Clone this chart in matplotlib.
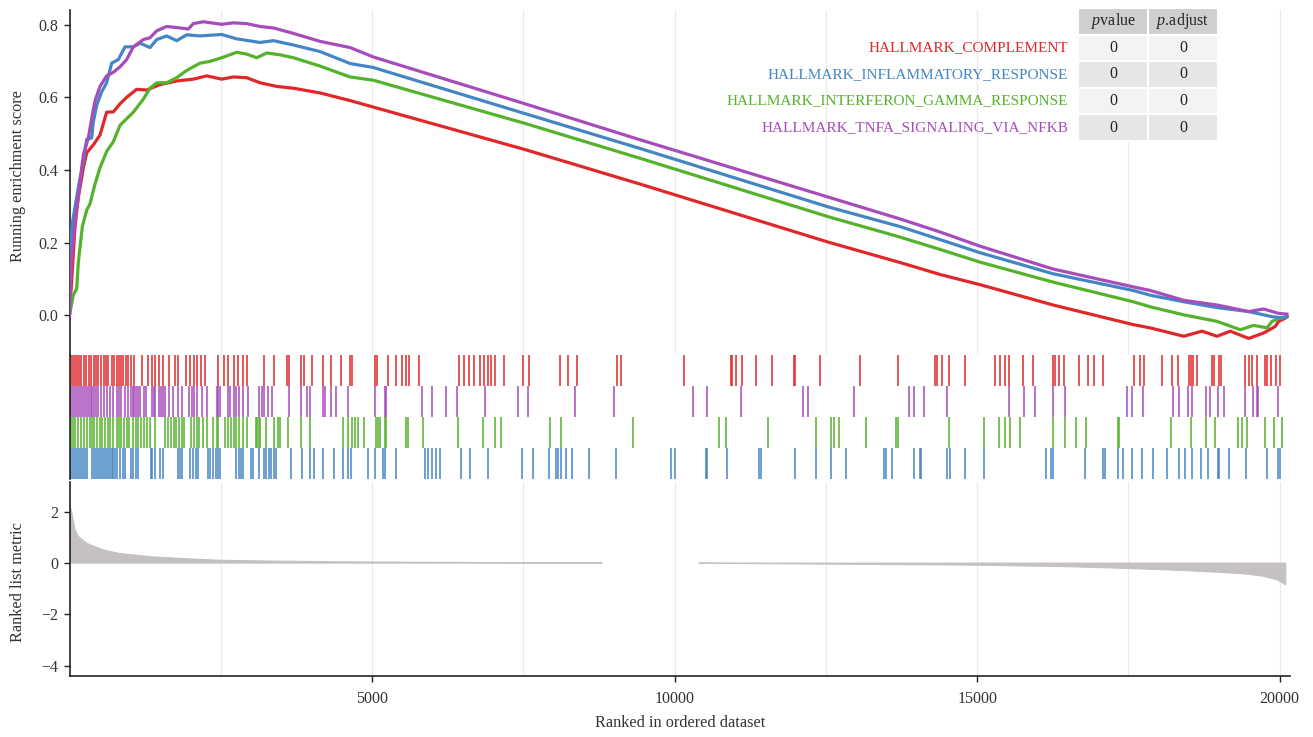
import matplotlib
matplotlib.use('Agg')
import matplotlib.pyplot as plt
import numpy as np

plt.rcParams['font.family'] = ['Liberation Serif', 'DejaVu Serif']
plt.rcParams['mathtext.fontset'] = 'custom'
plt.rcParams['mathtext.it'] = 'Liberation Serif:italic'
plt.rcParams['mathtext.rm'] = 'Liberation Serif'

# gene sets, colours
sets = ['HALLMARK_COMPLEMENT', 'HALLMARK_INFLAMMATORY_RESPONSE',
        'HALLMARK_INTERFERON_GAMMA_RESPONSE', 'HALLMARK_TNFA_SIGNALING_VIA_NFKB']
colors = ['#E0282A', '#4486C3', '#55B22C', '#A64CBB']
pvalue = ['0', '0', '0', '0']
padjust = ['0', '0', '0', '0']

# running enrichment score (rank, score)
red_x = [0, 91, 146, 229, 284, 394, 504, 614, 725, 835, 945, 1110, 1276, 1496, 1771, 2047, 2267, 2515,
         2708, 2928, 3149, 3424, 3700, 4141, 4637, 5022, 7530, 9430, 12543, 13727, 14390, 15049, 16257,
         17580, 17862, 18413, 18716, 18964, 19184, 19486, 19734, 19927, 19982, 20092, 20120]
red_y = [0, 0.244, 0.325, 0.406, 0.447, 0.469, 0.496, 0.559, 0.56, 0.582, 0.6, 0.622, 0.62, 0.635, 0.645,
         0.65, 0.659, 0.65, 0.656, 0.654, 0.64, 0.63, 0.625, 0.612, 0.591, 0.573, 0.456, 0.361, 0.201,
         0.145, 0.112, 0.084, 0.028, -0.026, -0.035, -0.058, -0.044, -0.058, -0.044, -0.064, -0.049,
         -0.031, -0.017, -0.008, -0.005]

blue_x = [0, 19, 47, 102, 157, 229, 284, 366, 394, 449, 532, 614, 697, 807, 917, 1055, 1165, 1331, 1441,
          1606, 1771, 1937, 2157, 2515, 2763, 3149, 3369, 3700, 4141, 4637, 5022, 7530, 9430, 12543,
          13727, 14390, 15049, 16257, 17580, 17862, 18413, 18964, 19486, 19872, 20060, 20120]
blue_y = [0, 0.2, 0.254, 0.308, 0.362, 0.424, 0.484, 0.488, 0.532, 0.578, 0.615, 0.64, 0.694, 0.704,
          0.739, 0.739, 0.749, 0.737, 0.759, 0.769, 0.756, 0.772, 0.769, 0.773, 0.761, 0.751, 0.756,
          0.744, 0.726, 0.693, 0.682, 0.555, 0.459, 0.298, 0.244, 0.208, 0.172, 0.114, 0.068, 0.055,
          0.037, 0.021, 0.01, -0.004, -0.008, -0.003]

green_x = [0, 63, 119, 146, 212, 284, 339, 421, 504, 614, 725, 835, 945, 1055, 1220, 1331, 1441, 1606,
           1771, 1937, 2157, 2323, 2515, 2763, 2928, 3093, 3259, 3479, 3700, 4141, 4637, 5022, 7530,
           9430, 12543, 13727, 14390, 15049, 16257, 17580, 17862, 18413, 18964, 19349, 19569, 19789,
           19872, 20010, 20120]
green_y = [0, 0.055, 0.073, 0.145, 0.244, 0.289, 0.307, 0.361, 0.406, 0.451, 0.478, 0.523, 0.541, 0.559,
           0.595, 0.625, 0.64, 0.64, 0.654, 0.674, 0.694, 0.699, 0.709, 0.724, 0.719, 0.709, 0.722, 0.717,
           0.709, 0.686, 0.656, 0.647, 0.528, 0.432, 0.271, 0.215, 0.181, 0.146, 0.091, 0.037, 0.023,
           0.001, -0.017, -0.04, -0.028, -0.035, -0.017, -0.008, -0.004]

purple_x = [0, 8, 47, 102, 157, 229, 311, 366, 421, 504, 614, 725, 835, 945, 1055, 1220, 1331, 1441,
            1606, 1827, 1964, 2047, 2212, 2515, 2708, 2928, 3149, 3369, 3700, 4141, 4637, 5022, 7530,
            9430, 12543, 13727, 14390, 15049, 16257, 17580, 17862, 18413, 18964, 19486, 19734, 19982,
            20120]
purple_y = [0, 0.082, 0.181, 0.271, 0.343, 0.442, 0.488, 0.541, 0.59, 0.63, 0.659, 0.669, 0.684, 0.704,
            0.739, 0.759, 0.764, 0.783, 0.795, 0.791, 0.788, 0.803, 0.808, 0.801, 0.805, 0.803, 0.795,
            0.791, 0.776, 0.754, 0.737, 0.711, 0.582, 0.483, 0.325, 0.265, 0.229, 0.19, 0.127, 0.078,
            0.068, 0.041, 0.028, 0.01, 0.017, 0.005, 0.003]

# positions of the gene set members in the ranked list
red_hits = [20, 51, 83, 127, 159, 190, 234, 272, 316, 348, 398, 442, 474, 525, 569, 600, 632, 707, 739,
            777, 821, 853, 884, 928, 966, 1010, 1073, 1200, 1294, 1357, 1420, 1484, 1547, 1641, 1736,
            1799, 1925, 1988, 2052, 2115, 2178, 2241, 2462, 2556, 2619, 2714, 2777, 2872, 2935, 3219,
            3377, 3597, 3629, 3818, 3881, 4008, 4197, 4323, 4481, 4639, 4670, 5049, 5080, 5257, 5396,
            5490, 5554, 5617, 5774, 6437, 6519, 6607, 6689, 6784, 6847, 6910, 6973, 7036, 7182, 7491,
            7592, 8109, 8235, 8393, 9043, 9119, 10160, 10936, 10956, 11010, 11106, 11337, 11616, 11976,
            11996, 12398, 13064, 13696, 14302, 14342, 14424, 14540, 14791, 15288, 15376, 15458, 15526,
            15750, 15920, 16260, 16294, 16348, 16430, 16688, 16838, 16926, 17076, 17586, 17688, 17756,
            18062, 18218, 18314, 18504, 18538, 18572, 18640, 18878, 18912, 18994, 19034, 19422, 19490,
            19538, 19626, 19762, 19796, 19864, 19932, 20000]
purple_hits = [1, 32, 64, 95, 127, 159, 190, 222, 253, 285, 316, 348, 379, 411, 442, 474, 525, 569, 613,
               663, 726, 777, 821, 853, 916, 966, 1010, 1042, 1073, 1105, 1137, 1168, 1231, 1263, 1357,
               1389, 1420, 1471, 1515, 1547, 1578, 1641, 1704, 1799, 1862, 1976, 2020, 2064, 2115, 2190,
               2272, 2430, 2462, 2493, 2619, 2651, 2714, 2758, 2809, 2872, 2948, 3124, 3187, 3219, 3282,
               3345, 3629, 3818, 3932, 3976, 4184, 4228, 4323, 4399, 4607, 5049, 5207, 5238, 5825, 5995,
               6216, 6405, 6860, 7415, 7573, 8362, 8993, 10296, 10534, 11092, 12126, 12200, 12962, 13880,
               13948, 14118, 14506, 15526, 15770, 15961, 16260, 16450, 17484, 17552, 17742, 18232, 18334,
               18484, 18558, 18776, 18844, 18980, 19082, 19422, 19558, 19626, 19646, 19966]
green_hits = [20, 64, 95, 146, 190, 234, 285, 335, 379, 411, 461, 506, 537, 588, 632, 676, 726, 777, 821,
              853, 903, 947, 991, 1042, 1092, 1137, 1181, 1231, 1282, 1326, 1420, 1578, 1622, 1673, 1723,
              1768, 1812, 1862, 1894, 2001, 2052, 2102, 2146, 2209, 2272, 2367, 2430, 2462, 2569, 2619,
              2670, 2714, 2758, 2809, 2872, 2935, 3074, 3093, 3124, 3156, 3250, 3377, 3440, 3471, 3616,
              3831, 3976, 4525, 4607, 4670, 4714, 4765, 4859, 5068, 5093, 5131, 5207, 5238, 5554, 5598,
              5838, 6418, 6835, 7036, 7131, 7939, 8122, 9308, 10738, 10854, 11548, 12336, 12588, 12642,
              12724, 13166, 13656, 13696, 14540, 15118, 15362, 15458, 15546, 15702, 16260, 16450, 16634,
              16804, 17334, 17348, 18198, 18538, 18776, 18926, 19306, 19374, 19456, 19762, 19898, 20034]
blue_hits = [1, 32, 64, 95, 127, 159, 190, 222, 253, 285, 379, 411, 442, 474, 506, 537, 569, 600, 632,
             663, 695, 726, 758, 790, 840, 884, 916, 1010, 1055, 1105, 1137, 1345, 1370, 1408, 1496, 1547,
             1787, 1831, 1862, 1988, 2039, 2083, 2127, 2291, 2317, 2367, 2417, 2462, 2493, 2758, 2796,
             2840, 2872, 2998, 3030, 3124, 3219, 3250, 3301, 3326, 3377, 3408, 3661, 3850, 3976, 4039,
             4197, 4374, 4513, 4607, 4651, 4941, 5049, 5175, 5207, 5396, 5869, 5932, 5995, 6058, 6121,
             6469, 6626, 6910, 7478, 7655, 7932, 8033, 8078, 8122, 8204, 8299, 8583, 9024, 9936, 10004,
             10514, 10534, 10874, 11398, 11432, 11990, 12336, 12588, 12826, 13458, 13486, 13594, 13948,
             14050, 14070, 14506, 14546, 14798, 15118, 16138, 16226, 16260, 16790, 17076, 17110, 17334,
             17416, 17566, 17722, 17906, 18130, 18334, 18436, 18558, 18694, 18810, 18980, 19000, 19170,
             19442, 19796, 19966, 20000]

# ranked list metric
metric_x = [0, 36, 91, 146, 284, 559, 835, 1386, 1937, 2488, 3314, 4500, 6000, 7500, 8800, 9500, 10400,
            12500, 15000, 16500, 17640, 18500, 19000, 19415, 19700, 19960, 20100]
metric_y = [2.3, 2.0, 1.31, 1.04, 0.77, 0.51, 0.37, 0.24, 0.17, 0.11, 0.08, 0.05, 0.03, 0.015, 0.005,
            0.0, -0.005, -0.04, -0.08, -0.14, -0.22, -0.3, -0.36, -0.42, -0.5, -0.65, -0.85]

W, H = 1313, 737


def rect(l, t, r, b):
    return [l / W, 1 - b / H, (r - l) / W, (b - t) / H]


fig = plt.figure(figsize=(W / 100, H / 100), dpi=100)
ax1 = fig.add_axes(rect(69.5, 10, 1290, 355))
ax2 = fig.add_axes(rect(69.5, 355, 1290, 479))
ax3 = fig.add_axes(rect(69.5, 482, 1290, 676))

XMAX = 20170
spine_c = '#222222'
grid_c = '#ebebeb'

for ax in (ax1, ax2, ax3):
    ax.set_xlim(0, XMAX)
    for s in ax.spines.values():
        s.set_visible(False)
    ax.spines['left'].set_visible(True)
    ax.spines['left'].set_color(spine_c)
    ax.spines['left'].set_linewidth(1.2)

# top panel
for xs, ys, c in [(red_x, red_y, colors[0]), (green_x, green_y, colors[2]),
                  (blue_x, blue_y, colors[1]), (purple_x, purple_y, colors[3])]:
    ax1.plot(xs, ys, color=c, lw=2.3, zorder=3)
ax1.set_ylim(-0.1096, 0.8404)
ax1.set_yticks([0.0, 0.2, 0.4, 0.6, 0.8])
ax1.set_yticklabels(['0.0', '0.2', '0.4', '0.6', '0.8'])
ax1.set_xticks([5000, 10000, 15000, 20000])
ax1.set_xticks([2500, 7500, 12500, 17500], minor=True)
ax1.grid(True, axis='x', which='both', color=grid_c, lw=0.9, zorder=0)
ax1.tick_params(axis='x', which='both', bottom=False, labelbottom=False)

# middle panel: hits
rows = [(blue_hits, colors[1]), (green_hits, colors[2]), (purple_hits, colors[3]), (red_hits, colors[0])]
for i, (hits, c) in enumerate(rows):
    ax2.vlines(hits, i, i + 1, color=c, lw=1.1)
ax2.set_ylim(0, 4)
ax2.set_yticks([])
ax2.set_xticks([])

# bottom panel: ranked list metric
mx = np.array(metric_x)
my = np.array(metric_y)
ax3.fill_between(mx, 0, my, where=my != 0, color='#c6c1c1', lw=0.8, edgecolor='#c6c1c1', zorder=2)
ax3.set_ylim(-4.4, 3.16)
ax3.set_yticks([2, 0, -2, -4])
ax3.set_yticklabels(['2', '0', '\u22122', '\u22124'])
ax3.set_xticks([5000, 10000, 15000, 20000])
ax3.set_xticklabels(['5000', '10000', '15000', '20000'])
ax3.set_xticks([2500, 7500, 12500, 17500], minor=True)
ax3.grid(True, axis='x', which='both', color=grid_c, lw=0.9, zorder=0)
ax3.spines['bottom'].set_visible(True)
ax3.spines['bottom'].set_color(spine_c)
ax3.spines['bottom'].set_linewidth(1.2)
ax3.tick_params(axis='x', which='minor', length=0)

for ax in (ax1, ax3):
    ax.tick_params(axis='both', which='major', labelsize=11.5, length=4, width=1.0,
                   color=spine_c, labelcolor='#333333', pad=4)
ax3.tick_params(axis='x', which='major', pad=7)

fig.text(18 / W, 1 - 176 / H, 'Running enrichment score', rotation=90, ha='center', va='center',
         fontsize=11.7, color='#333333')
fig.text(18 / W, 1 - 582 / H, 'Ranked list metric', rotation=90, ha='center', va='center',
         fontsize=11.7, color='#333333')
fig.text(680 / W, 1 - 723 / H, 'Ranked in ordered dataset', ha='center', va='center',
         fontsize=11.7, color='#333333')

# table
axt = fig.add_axes(rect(1078, 8, 1218, 141))
axt.axis('off')
cell_text = [[p, q] for p, q in zip(pvalue, padjust)]
body_c = ['#f3f3f3', '#e6e6e6', '#f3f3f3', '#e6e6e6']
tbl = axt.table(cellText=cell_text, colLabels=[r'$\mathit{p}$value', r'$\mathit{p}$.adjust'],
                cellColours=[[c, c] for c in body_c], colColours=['#d1cece', '#d1cece'],
                cellLoc='center', bbox=[0, 0, 1, 1])
tbl.auto_set_font_size(False)
tbl.set_fontsize(11.5)
for (r, c), cell in tbl.get_celld().items():
    cell.set_edgecolor('white')
    cell.set_linewidth(1.5)
    cell.get_text().set_color('#222222')
for i, (name, c) in enumerate(zip(sets, colors)):
    axt.text(-0.07, 1 - (i + 1.5) / 5, name, ha='right', va='center', color=c, fontsize=11,
             transform=axt.transAxes)

fig.savefig('out.png', dpi=100)
